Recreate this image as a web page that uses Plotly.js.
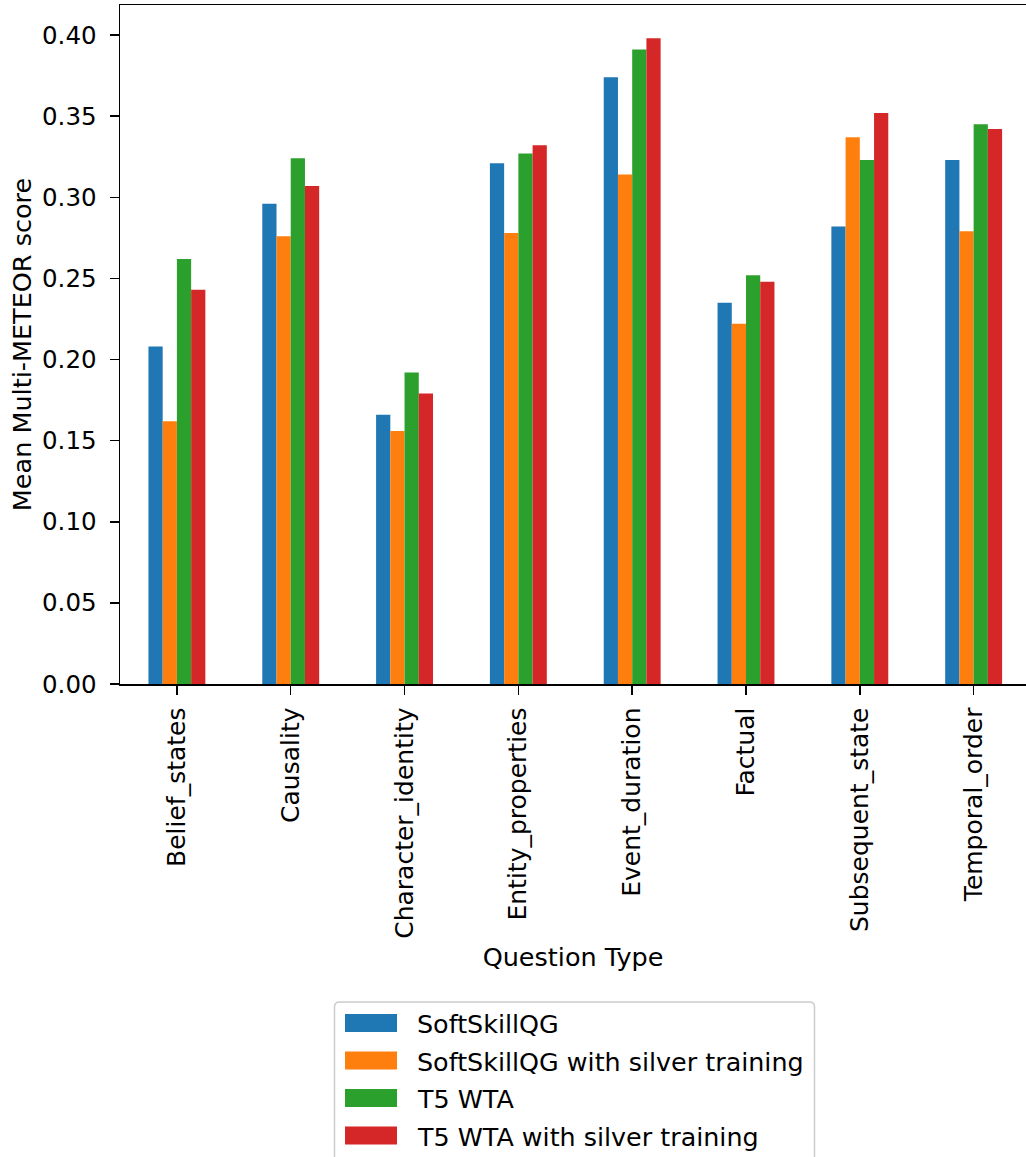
<!DOCTYPE html>
<html>
<head>
<meta charset="utf-8">
<script src="https://cdn.plot.ly/plotly-3.0.1.min.js"></script>
<style>
  html, body { margin: 0; padding: 0; background: #fff; overflow: hidden; }
  #chart { width: 1026px; height: 1157px; }
</style>
</head>
<body>
<div id="chart"></div>
<script>
// Question categories on the x axis
const questionTypes = [
  "Belief_states", "Causality", "Character_identity", "Entity_properties",
  "Event_duration", "Factual", "Subsequent_state", "Temporal_order"
];

// Mean Multi-METEOR score per model
const softSkillQG       = [0.208, 0.296, 0.166, 0.321, 0.374, 0.235, 0.282, 0.323];
const softSkillQGSilver = [0.162, 0.276, 0.156, 0.278, 0.314, 0.222, 0.337, 0.279];
const t5Wta             = [0.262, 0.324, 0.192, 0.327, 0.391, 0.252, 0.323, 0.345];
const t5WtaSilver       = [0.243, 0.307, 0.179, 0.332, 0.398, 0.248, 0.352, 0.342];

const seriesNames = [
  "SoftSkillQG",
  "SoftSkillQG with silver training",
  "T5 WTA",
  "T5 WTA with silver training"
];
const seriesValues = [softSkillQG, softSkillQGSilver, t5Wta, t5WtaSilver];
const seriesColors = ["#1f77b4", "#ff7f0e", "#2ca02c", "#d62728"];

const yTicks = [0, 0.05, 0.10, 0.15, 0.20, 0.25, 0.30, 0.35, 0.40];

const FONT = "DejaVu Sans, sans-serif";
const FS_YTICK = 24.5;
const FS_XTICK = 25;
const FS_TITLE = 25.5;
const FS_LEGEND = 25.4;

// Page geometry of the plotting area (pixels)
const W = 1026, H = 1157;
const M = { l: 120, r: 0, t: 5, b: 473 };
const plotW = W - M.l - M.r;
const plotH = H - M.t - M.b;
const px = x => (x - M.l) / plotW;          // page x -> paper x
const py = y => (H - M.b - y) / plotH;      // page y -> paper y

const traces = seriesNames.map((name, i) => ({
  type: "bar",
  name: name,
  x: questionTypes.map((_, k) => k),
  y: seriesValues[i],
  marker: { color: seriesColors[i], line: { width: 0 } },
  showlegend: false,
  hoverinfo: "x+y+name"
}));

// Legend box drawn below the axes: rounded frame, colour patches, labels
const shapes = [];
const annotations = [];
const box = { x0: 334.5, x1: 814.5, y0: 1002, y1: 1175, r: 5 };
const rx = box.r / plotW, ry = box.r / plotH;
const bx0 = px(box.x0), bx1 = px(box.x1), by0 = py(box.y0), by1 = py(box.y1);
shapes.push({
  type: "path", xref: "paper", yref: "paper",
  path: `M ${bx0 + rx},${by0} L ${bx1 - rx},${by0} Q ${bx1},${by0} ${bx1},${by0 - ry} ` +
        `L ${bx1},${by1 + ry} Q ${bx1},${by1} ${bx1 - rx},${by1} L ${bx0 + rx},${by1} ` +
        `Q ${bx0},${by1} ${bx0},${by1 + ry} L ${bx0},${by0 - ry} Q ${bx0},${by0} ${bx0 + rx},${by0} Z`,
  fillcolor: "rgba(255,255,255,0.8)",
  line: { color: "#cccccc", width: 1.5 },
  layer: "above"
});
const rowCenters = [1023, 1060.5, 1098, 1135.5];
seriesNames.forEach((name, i) => {
  const cy = rowCenters[i];
  shapes.push({
    type: "rect", xref: "paper", yref: "paper",
    x0: px(345), x1: px(397), y0: py(cy - 9), y1: py(cy + 9),
    fillcolor: seriesColors[i], line: { width: 0 }, layer: "above"
  });
  annotations.push({
    xref: "paper", yref: "paper",
    x: px(415), y: py(cy + 1),
    xanchor: "left", yanchor: "middle",
    text: name, showarrow: false,
    font: { family: FONT, size: FS_LEGEND, color: "#000" }
  });
});

const layout = {
  width: W, height: H,
  margin: M,
  paper_bgcolor: "#fff",
  plot_bgcolor: "#fff",
  font: { family: FONT, size: FS_XTICK, color: "#000" },
  barmode: "group",
  bargap: 0.5,
  bargroupgap: 0,
  showlegend: false,
  xaxis: {
    range: [-0.5, 7.46],
    tickmode: "array",
    tickvals: questionTypes.map((_, k) => k),
    ticktext: questionTypes,
    tickangle: -90,
    ticks: "outside", ticklen: 9, tickwidth: 1.5, tickcolor: "#000",
    ticklabelstandoff: 3,
    showline: true, linecolor: "#000", linewidth: 1.5, mirror: true,
    showgrid: false, zeroline: false,
    tickfont: { family: FONT, size: FS_XTICK, color: "#000" },
    title: { text: "Question Type", standoff: 10, font: { family: FONT, size: FS_TITLE, color: "#000" } },
    automargin: false
  },
  yaxis: {
    range: [0, 0.4185],
    tickmode: "array",
    tickvals: yTicks,
    tickformat: ".2f",
    ticks: "outside", ticklen: 9, tickwidth: 1.5, tickcolor: "#000",
    ticklabelstandoff: 8,
    showline: true, linecolor: "#000", linewidth: 1.5, mirror: false,
    showgrid: false, zeroline: false,
    tickfont: { family: FONT, size: FS_YTICK, color: "#000" },
    title: { text: "Mean Multi-METEOR score", standoff: 3, font: { family: FONT, size: FS_TITLE, color: "#000" } },
    automargin: false
  },
  shapes: shapes,
  annotations: annotations
};

Plotly.newPlot("chart", traces, layout, { displayModeBar: false, staticPlot: true });
</script>
</body>
</html>
